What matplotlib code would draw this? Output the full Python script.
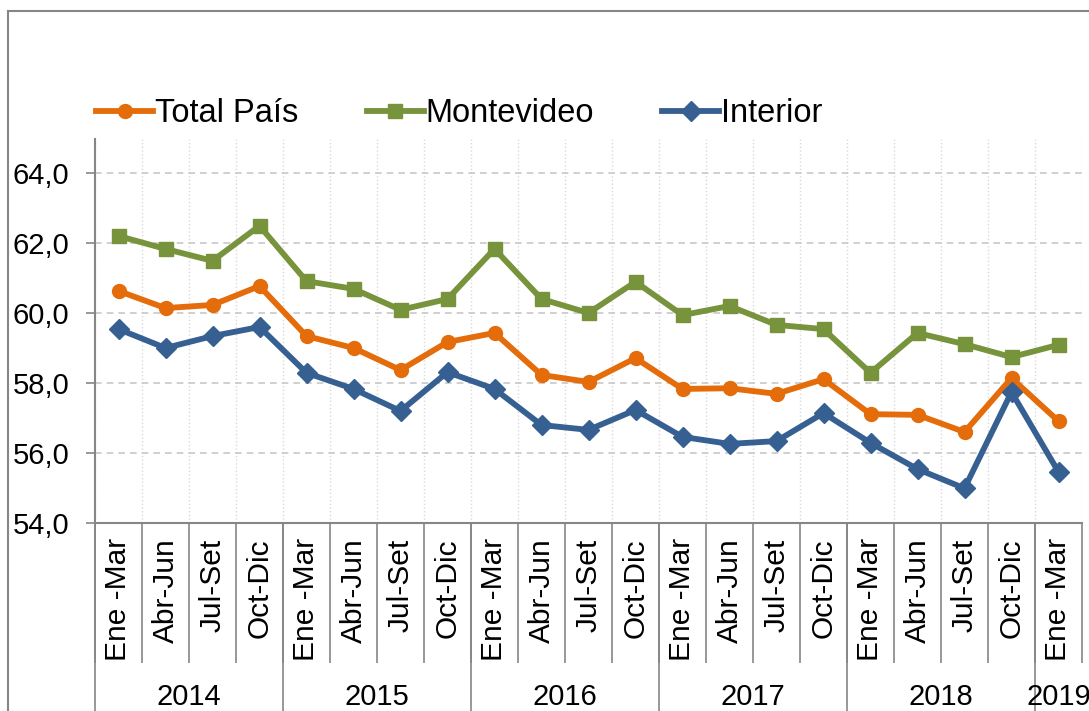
import numpy as np
import matplotlib
matplotlib.use('Agg')
import matplotlib.pyplot as plt
from matplotlib.lines import Line2D
from matplotlib.ticker import FuncFormatter

plt.rcParams['font.family'] = ['Liberation Sans', 'DejaVu Sans']

# --- data ---
periodos = ['Ene -Mar', 'Abr-Jun', 'Jul-Set', 'Oct-Dic'] * 5 + ['Ene -Mar']
anios = ['2014', '2015', '2016', '2017', '2018', '2019']
anio_inicio = [0, 4, 8, 12, 16, 20]

total_pais = [60.63, 60.14, 60.23, 60.77, 59.34, 59.00, 58.37, 59.17, 59.43, 58.23,
              58.03, 58.71, 57.83, 57.85, 57.69, 58.11, 57.11, 57.09, 56.60, 58.14, 56.91]
montevideo = [62.20, 61.83, 61.49, 62.49, 60.91, 60.69, 60.09, 60.40, 61.83, 60.40,
              60.00, 60.89, 59.94, 60.20, 59.66, 59.54, 58.29, 59.43, 59.11, 58.74, 59.09]
interior = [59.54, 59.00, 59.34, 59.60, 58.29, 57.83, 57.20, 58.31, 57.83, 56.80,
            56.66, 57.23, 56.46, 56.26, 56.34, 57.14, 56.29, 55.54, 54.99, 57.74, 55.46]

W, H = 1089, 711
fig = plt.figure(figsize=(W / 100, H / 100), dpi=100)
ax = fig.add_axes([95 / W, (H - 523) / H, 987 / W, 384 / H])

gris = '#868686'
x = np.arange(len(periodos))

ax.plot(x, total_pais, color='#E46C0A', lw=4.2, marker='o', ms=10, label='Total País', zorder=3)
ax.plot(x, montevideo, color='#77933C', lw=4.2, marker='s', ms=10, label='Montevideo', zorder=3)
ax.plot(x, interior, color='#376092', lw=4.2, marker='D', ms=10, label='Interior', zorder=3)

ax.set_xlim(-0.5, len(periodos) - 0.5)
ax.set_ylim(54, 54 + 384 / 35)
ax.set_yticks(np.arange(54, 65, 2))
ax.yaxis.set_major_formatter(FuncFormatter(lambda v, p: ('%.1f' % v).replace('.', ',')))
ax.tick_params(axis='y', direction='out', length=6.5, width=1.2, color=gris,
               labelsize=21, pad=12)
ax.grid(axis='y', color='#C8C8C8', ls=(0, (4, 3)), lw=1.2)

ax.set_xticks(x)
ax.set_xticklabels(periodos, rotation=90, fontsize=21.5)
ax.tick_params(axis='x', which='major', length=0, pad=11)
ax.set_xticks(np.arange(-0.5, len(periodos)), minor=True)
ax.tick_params(axis='x', which='minor', direction='out', length=100.8, width=1.2, color=gris)
ax.grid(axis='x', which='minor', color='#D9D9D9', ls=':', lw=1.0)

for s in ['top', 'right']:
    ax.spines[s].set_visible(False)
for s in ['left', 'bottom']:
    ax.spines[s].set_color(gris)
    ax.spines[s].set_linewidth(1.5)

# year groups
tr = ax.get_xaxis_transform()
bordes = anio_inicio + [len(periodos)]
for i, a in enumerate(anios):
    ax.plot([bordes[i] - 0.5] * 2, [0, -0.5], color=gris, lw=1.2, transform=tr, clip_on=False)
    centro = (bordes[i] + bordes[i + 1] - 1) / 2
    ax.text(centro, -0.453, a, transform=tr, ha='center', va='center', fontsize=21)

# outer chart frame
fig.add_artist(Line2D([8 / W, 8 / W], [0, 1 - 11 / H], color=gris, lw=1.5))
fig.add_artist(Line2D([8 / W, 1.01], [1 - 11 / H, 1 - 11 / H], color=gris, lw=1.5))

fig.legend(loc='center left', bbox_to_anchor=(96 / W, 1 - 114 / H), ncol=3,
           frameon=False, fontsize=23.5, handlelength=1.75, handletextpad=0.05,
           columnspacing=2.1, borderpad=0, borderaxespad=0)

fig.savefig('out.png', dpi=100, facecolor='white')
